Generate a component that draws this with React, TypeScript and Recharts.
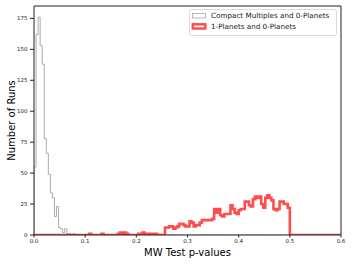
import React from 'react';
import { ComposedChart, Line, XAxis, YAxis, Legend, ReferenceLine } from 'recharts';

const BIN_WIDTH = 0.004;

// Histogram counts per bin of width 0.004 over [0, 0.6]
const grayCounts = [
  55, 162, 176, 153, 138, 78, 66, 49, 34, 30, 15, 23, 6, 5, 2, 5, 1, 1, 0, 1,
  0, 0, 0, 0, 0, 0, 0, 0, 0, 0, 0, 0, 0, 0, 0, 0, 0, 0, 0, 0,
  0, 0, 0, 0, 0, 0, 0, 0, 0, 0, 0, 0, 0, 0, 0, 0, 0, 0, 0, 0,
  0, 0, 0, 0, 0, 0, 0, 0, 0, 0, 0, 0, 0, 0, 0, 0, 0, 0, 0, 0,
  0, 0, 0, 0, 0, 0, 0, 0, 0, 0, 0, 0, 0, 0, 0, 0, 0, 0, 0, 0,
  0, 0, 0, 0, 0, 0, 0, 0, 0, 0, 0, 0, 0, 0, 0, 0, 0, 0, 0, 0,
  0, 0, 0, 0, 0, 0, 0, 0, 0, 0, 0, 0, 0, 0, 0, 0, 0, 0, 0, 0,
  0, 0, 0, 0, 0, 0, 0, 0, 0, 0,
];

const redCounts = [
  0, 0, 0, 0, 0, 0, 0, 0, 0, 0, 0, 0, 0, 0, 0, 0, 0, 0, 0, 0,
  0, 0, 0, 0, 0, 0, 0, 1, 0, 0, 0, 0, 0, 1, 0, 0, 0, 0, 0, 0,
  0, 1, 2, 1, 2, 1, 0, 0, 0, 0, 0, 1, 1, 2, 1, 1, 1, 1, 1, 1,
  0, 0, 0, 0, 6, 6, 7, 7, 5, 6, 7, 9, 9, 8, 7, 7, 11, 10, 7, 8,
  8, 10, 12, 12, 12, 12, 12, 13, 21, 18, 21, 16, 15, 17, 17, 17, 24, 21, 18, 17,
  20, 21, 21, 27, 27, 24, 23, 29, 31, 30, 31, 25, 22, 30, 32, 30, 28, 21, 20, 21,
  27, 27, 25, 25, 22, 0, 0, 0, 0, 0, 0, 0, 0, 0, 0, 0, 0, 0, 0, 0,
  0, 0, 0, 0, 0, 0, 0, 0, 0, 0,
];

const xTicks = [0, 0.1, 0.2, 0.3, 0.4, 0.5, 0.6];
const yTicks = [0, 25, 50, 75, 100, 125, 150, 175];

const seriesNames = ['Compact Multiples and 0-Planets', '1-Planets and 0-Planets'];

function toSteps(counts: number[]) {
  const pts: { x: number; y: number }[] = [{ x: 0, y: 0 }];
  counts.forEach((c, i) => pts.push({ x: i * BIN_WIDTH, y: c }));
  const end = counts.length * BIN_WIDTH;
  pts.push({ x: end, y: counts[counts.length - 1] });
  pts.push({ x: end, y: 0 });
  return pts;
}

const grayData = toSteps(grayCounts);
const redData = toSteps(redCounts);

const FONT = '"DejaVu Sans", sans-serif';

const LegendBox = () => (
  <svg width={148} height={27} style={{ display: 'block' }}>
    <rect x={0.5} y={0.5} width={147} height={26} rx={2} fill="#fff" fillOpacity={0.8} stroke="#d0d0d0" strokeWidth={0.8} />
    <rect x={3.5} y={4.5} width={13} height={4.5} fill="none" stroke="#aaaaaa" strokeWidth={0.8} />
    <text x={22} y={9.3} fontSize={7.2} fontFamily={FONT} fill="#222">{seriesNames[0]}</text>
    <rect x={3.8} y={15.3} width={12.5} height={4.2} fill="none" stroke="#ff0000" strokeOpacity={0.7} strokeWidth={2.5} />
    <text x={22} y={20.3} fontSize={7.2} fontFamily={FONT} fill="#222">{seriesNames[1]}</text>
  </svg>
);

export default function App() {
  return (
    <div style={{ position: 'absolute', left: 0, top: 0, width: 352, height: 264, background: '#fff' }}>
      <ComposedChart width={352} height={264} margin={{ top: 6, right: 11, bottom: 0, left: 0 }}>
        <XAxis
          type="number"
          dataKey="x"
          domain={[0, 0.6]}
          ticks={xTicks}
          allowDataOverflow
          tickFormatter={(v: number) => v.toFixed(1)}
          tickSize={2.5}
          tickMargin={1.5}
          height={29}
          stroke="#222"
          tick={{ fontSize: 5.5, fontFamily: FONT, fill: '#222' }}
          label={{ value: 'MW Test p-values', position: 'insideBottom', offset: 8, style: { fontSize: 10, fontFamily: FONT, fill: '#000' } }}
        />
        <YAxis
          type="number"
          domain={[0, 185]}
          ticks={yTicks}
          allowDataOverflow
          tickSize={4}
          tickMargin={2.5}
          width={34}
          stroke="#222"
          tick={{ fontSize: 5.5, fontFamily: FONT, fill: '#222' }}
          label={{ value: 'Number of Runs', angle: -90, position: 'insideLeft', offset: 11, style: { fontSize: 10, fontFamily: FONT, fill: '#000', textAnchor: 'middle' } }}
        />
        <ReferenceLine y={185} stroke="#222" strokeWidth={1} ifOverflow="visible" />
        <ReferenceLine x={0.6} stroke="#222" strokeWidth={1} ifOverflow="visible" />
        <Line
          data={grayData}
          dataKey="y"
          type="stepAfter"
          stroke="#aaaaaa"
          strokeWidth={1}
          dot={false}
          activeDot={false}
          isAnimationActive={false}
          name={seriesNames[0]}
        />
        <Line
          data={redData}
          dataKey="y"
          type="stepAfter"
          stroke="#ff0000"
          strokeOpacity={0.7}
          strokeWidth={2.6}
          strokeLinejoin="miter"
          dot={false}
          activeDot={false}
          isAnimationActive={false}
          name={seriesNames[1]}
        />
        <Legend
          layout="horizontal"
          verticalAlign="middle"
          align="center"
          content={() => <LegendBox />}
          wrapperStyle={{ position: 'absolute', left: 189, top: 9, width: 148, height: 27 }}
        />
      </ComposedChart>
    </div>
  );
}
